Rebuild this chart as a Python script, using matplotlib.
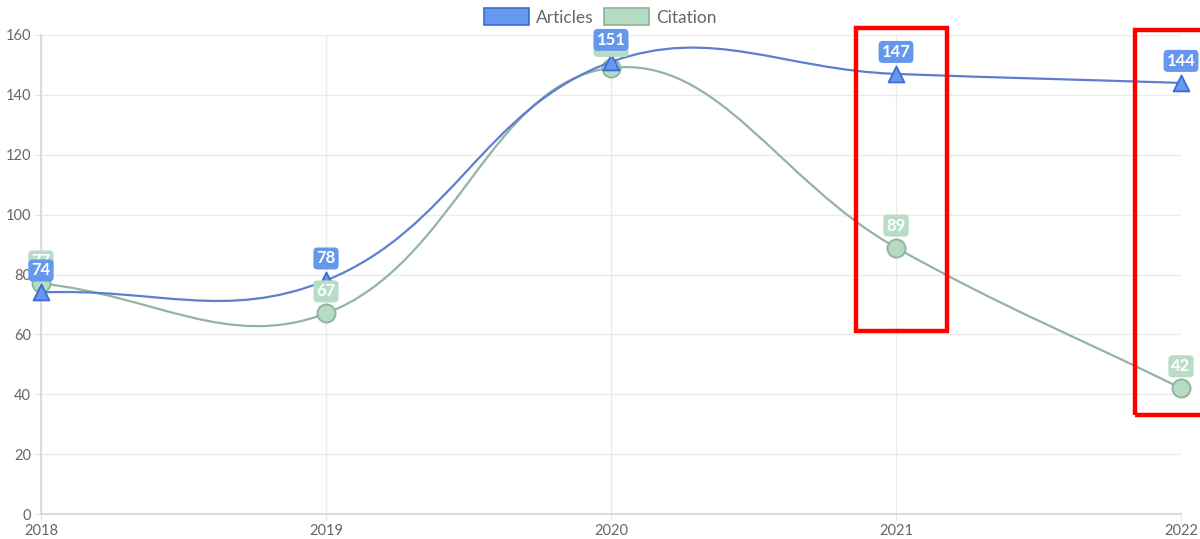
import numpy as np
import matplotlib.pyplot as plt
from matplotlib.path import Path
from matplotlib.patches import PathPatch, Rectangle

plt.rcParams['font.family'] = ['Lato', 'DejaVu Sans']

# data
years = [2018, 2019, 2020, 2021, 2022]
articles = [74, 78, 151, 147, 144]
citation = [77, 67, 149, 89, 42]

blue_line = '#5c7fd1'
blue_fill = '#6699ee'
blue_edge = '#3b6bd6'
green_line = '#93b5a0'
green_fill = '#b5dbc4'
green_edge = '#8cb39a'

fig = plt.figure(figsize=(12, 5.39), dpi=100)
ax = fig.add_axes([41 / 1200, 25 / 539, 1140 / 1200, 479 / 539])
ax.set_xlim(2018, 2022)
ax.set_ylim(0, 160)


def spline_path(xs, ys, tension=0.4):
    # Chart.js style cubic bezier, worked out in pixel space
    pts = ax.transData.transform(np.column_stack([xs, ys]))
    n = len(pts)
    cps = []
    for i in range(n):
        prev = pts[i - 1] if i > 0 else pts[i]
        cur = pts[i]
        nxt = pts[i + 1] if i < n - 1 else pts[i]
        d01 = np.hypot(*(cur - prev))
        d12 = np.hypot(*(nxt - cur))
        tot = d01 + d12
        fa = tension * (d01 / tot if tot else 0)
        fb = tension * (d12 / tot if tot else 0)
        cps.append((cur - fa * (nxt - prev), cur + fb * (nxt - prev)))
    verts = [pts[0]]
    codes = [Path.MOVETO]
    for i in range(n - 1):
        verts += [cps[i][1], cps[i + 1][0], pts[i + 1]]
        codes += [Path.CURVE4] * 3
    verts = ax.transData.inverted().transform(np.array(verts))
    return Path(verts, codes)


# grid
for v in range(0, 161, 20):
    ax.axhline(v, color='#ebebeb', lw=1, zorder=0)
for yr in years:
    ax.axvline(yr, color='#ebebeb', lw=1, zorder=0)
for s in ['top', 'right']:
    ax.spines[s].set_visible(False)
for s in ['left', 'bottom']:
    ax.spines[s].set_color('#d5d5d5')
    ax.spines[s].set_linewidth(1.2)

ax.set_xticks(years)
ax.set_yticks(range(0, 161, 20))
ax.tick_params(length=5, color='#e5e5e5', labelsize=10.5, labelcolor='#666666', pad=2)

# lines
ax.add_patch(PathPatch(spline_path(years, citation), fill=False, ec=green_line, lw=1.6, zorder=2))
ax.add_patch(PathPatch(spline_path(years, articles), fill=False, ec=blue_line, lw=1.6, zorder=4))

ax.scatter(years, citation, s=170, marker='o', color=green_fill, edgecolor=green_edge, lw=1.3, zorder=3,
           clip_on=False)
ax.scatter(years, articles, s=130, marker='^', color=blue_fill, edgecolor=blue_edge, lw=1.3, zorder=5,
           clip_on=False)


def label(x, y, txt, fc, z):
    ax.annotate(txt, (x, y), xytext=(0, 22), textcoords='offset pixels',
                ha='center', va='center', color='white', fontsize=12, fontweight='bold', zorder=z,
                annotation_clip=False,
                bbox=dict(boxstyle='round,pad=0.18,rounding_size=0.25', fc=fc, ec='none'))


for x, y in zip(years, citation):
    label(x, y, str(y), '#b9dcc7', 6)
for x, y in zip(years, articles):
    label(x, y, str(y), '#6597ec', 7)

# highlight boxes
ax.add_patch(Rectangle((2020.86, 61.1), 0.32, 101.2, fill=False, ec='#ff0000', lw=3.2,
                       clip_on=False, zorder=8))
ax.add_patch(Rectangle((2021.84, 33.0), 0.4, 128.7, fill=False, ec='#ff0000', lw=3.2,
                       clip_on=False, zorder=8))

# legend
h1 = Rectangle((0, 0), 1, 1, fc=blue_fill, ec=blue_edge, lw=1.2)
h2 = Rectangle((0, 0), 1, 1, fc=green_fill, ec=green_edge, lw=1.2)
fig.legend([h1, h2], ['Articles', 'Citation'], loc='center', bbox_to_anchor=(0.5, 1 - 17 / 539),
           ncol=2, frameon=False, fontsize=12.5, labelcolor='#666666', handlelength=2.6, handleheight=1.1,
           handletextpad=0.4, columnspacing=0.6)

fig.savefig('out.png', dpi=100)
